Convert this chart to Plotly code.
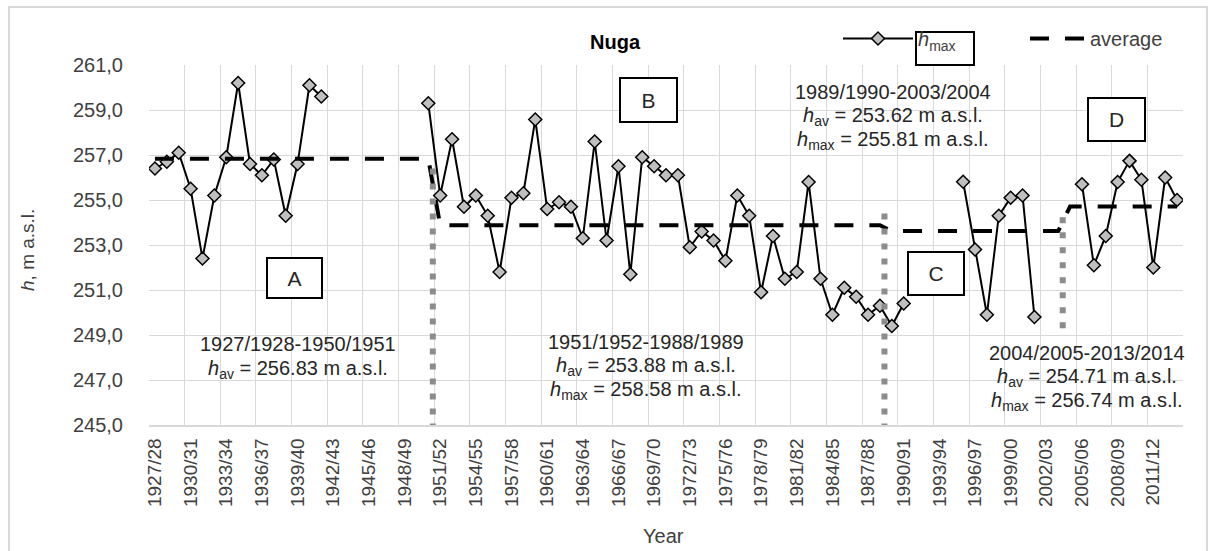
import plotly.graph_objects as go

# ---------------- data ----------------
seasons = [f"{y}/{str(y + 1)[-2:]}" for y in range(1927, 2014)]

h_max = [
    256.4, 256.7, 257.1, 255.5, 252.4, 255.2, 256.9, 260.2, 256.6, 256.1,
    256.8, 254.3, 256.6, 260.1, 259.6,
    None, None, None, None, None, None, None, None,
    259.3, 255.2, 257.7, 254.7, 255.2, 254.3, 251.8, 255.1, 255.3, 258.58,
    254.6, 254.9, 254.7, 253.3, 257.6, 253.2, 256.5, 251.7, 256.9, 256.5,
    256.1, 256.1, 252.9, 253.6, 253.2, 252.3, 255.2, 254.3, 250.9, 253.4,
    251.5, 251.8, 255.8, 251.5, 249.9, 251.1, 250.7, 249.9, 250.3, 249.4,
    250.4,
    None, None, None, None,
    255.81, 252.8, 249.9, 254.3, 255.1, 255.2, 249.8,
    None, None, None,
    255.7, 252.1, 253.4, 255.8, 256.74, 255.9, 252.0, 256.0, 255.0,
]

period_names = ["A", "B", "C", "D"]
period_first = ["1927/28", "1951/52", "1989/90", "2004/05"]
period_last = ["1950/51", "1988/89", "2003/04", "2013/14"]
period_text = ["1927/1928-1950/1951", "1951/1952-1988/1989",
               "1989/1990-2003/2004", "2004/2005-2013/2014"]
period_avg = [256.83, 253.88, 253.62, 254.71]
period_hmax = [None, 258.58, 255.81, 256.74]

y_ticks = [245, 247, 249, 251, 253, 255, 257, 259, 261]

# ---------------- derived ----------------
x_idx = list(range(len(seasons)))
average = []
for s in seasons:
    for f, l, a in zip(period_first, period_last, period_avg):
        if seasons.index(f) <= seasons.index(s) <= seasons.index(l):
            average.append(a)
            break

FONT = "Arial, Liberation Sans, sans-serif"
TXT = "#404040"
GRID = "#d9d9d9"

W, H = 1214, 551
L, R, T, B = 149, 1183, 65, 425


def px(x):
    return (x - L) / (R - L)


def py(y):
    return (B - y) / (B - T)


fig = go.Figure()
fig.add_trace(go.Scatter(
    x=x_idx, y=h_max, mode="lines+markers", name="<i>h</i><sub>max</sub>",
    line=dict(color="black", width=2),
    marker=dict(symbol="diamond", size=10, color="#bfbfbf",
                line=dict(color="black", width=1.5)),
    connectgaps=False, legend="legend",
))
fig.add_trace(go.Scatter(
    x=x_idx, y=average, mode="lines", name="average",
    line=dict(color="black", width=4, dash="19px,16px"),
    legend="legend2",
))

shapes = []
# white boxes behind the period texts (hide gridlines)
for x0, x1, y0, y1 in [(150, 430, 320, 404), (497, 797, 317, 404),
                       (743, 1035, 66, 155), (957, 1182, 328, 405)]:
    shapes.append(dict(type="rect", xref="paper", yref="paper",
                       x0=px(x0), x1=px(x1), y0=py(y1), y1=py(y0),
                       fillcolor="white", line=dict(width=0), layer="between"))

# dotted vertical separators between periods
sep_top = [256.7, 254.45, 254.55]
sep_bot = [244.8, 244.8, 249.3]
for i in range(3):
    xs = seasons.index(period_last[i]) + 0.38
    shapes.append(dict(type="line", xref="x", yref="y", x0=xs, x1=xs,
                       y0=sep_bot[i], y1=sep_top[i],
                       line=dict(color="#8c8c8c", width=6, dash="6px,9px")))

# box around legend text h_max
shapes.append(dict(type="rect", xref="paper", yref="paper",
                   x0=px(916), x1=px(974), y0=py(65), y1=py(32),
                   line=dict(color="black", width=2), fillcolor="rgba(0,0,0,0)"))
# outer chart border
shapes.append(dict(type="rect", xref="paper", yref="paper",
                   x0=px(9), x1=px(1207), y0=py(565), y1=py(7),
                   line=dict(color="#d9d9d9", width=2), fillcolor="rgba(0,0,0,0)"))

ann = []
# period letter boxes
for name, (cx, cy, w, h) in zip(period_names, [(294.5, 278, 57, 42), (648.5, 100, 59, 46),
                                               (936, 273.5, 58, 45), (1116.5, 119.5, 59, 45)]):
    ann.append(dict(x=px(cx), y=py(cy), xref="paper", yref="paper", text=name,
                    xanchor="center", yanchor="middle",
                    showarrow=False, width=w - 6, height=h - 6, bgcolor="white",
                    bordercolor="black", borderwidth=2, borderpad=1,
                    font=dict(size=21, color="#262626", family=FONT)))

# period description texts (line by line)
centers = [(298, [344, 369]), (646, [342, 366, 390]),
           (893, [92, 116, 140]), (1087, [353, 377, 401])]
for i, (cx, ys) in enumerate(centers):
    lines = [period_text[i], f"<i>h</i><sub>av</sub> = {period_avg[i]:.2f} m a.s.l."]
    if period_hmax[i] is not None:
        lines.append(f"<i>h</i><sub>max</sub> = {period_hmax[i]:.2f} m a.s.l.")
    for t, yy in zip(lines, ys):
        ann.append(dict(x=px(cx), y=py(yy), xref="paper", yref="paper", text=t,
                        showarrow=False, xanchor="center", yanchor="middle",
                        font=dict(size=20, color="#262626", family=FONT)))

# axis titles
ann.append(dict(x=px(28), y=py(250), xref="paper", yref="paper",
                xanchor="center", yanchor="middle",
                text="<i>h</i>, m a.s.l.", textangle=-90, showarrow=False,
                font=dict(size=19, color=TXT, family=FONT)))
ann.append(dict(x=px(663), y=py(536), xref="paper", yref="paper", text="Year",
                xanchor="center", yanchor="middle",
                showarrow=False, font=dict(size=20, color=TXT, family=FONT)))

legend_common = dict(orientation="h", xanchor="left", yanchor="top",
                     font=dict(size=20, color=TXT, family=FONT),
                     bgcolor="rgba(0,0,0,0)", borderwidth=0)

fig.update_layout(
    width=W, height=H,
    margin=dict(l=L, r=W - R, t=T, b=H - B, pad=0),
    paper_bgcolor="white", plot_bgcolor="white",
    separators=", ",
    title=dict(text="<b>Nuga</b>", x=615 / W, y=1 - 42 / H, xanchor="center",
               yanchor="middle", font=dict(size=20, color="black", family=FONT)),
    font=dict(family=FONT, color=TXT),
    showlegend=True,
    legend=dict(x=px(838), y=py(19), itemwidth=70, **legend_common),
    legend2=dict(x=px(1025), y=py(19), itemwidth=55, **legend_common),
    shapes=shapes, annotations=ann,
    xaxis=dict(range=[-0.5, len(seasons) - 0.5], tickmode="array",
               tickvals=x_idx[::3], ticktext=seasons[::3], tickangle=-90,
               showgrid=False, zeroline=False, showline=True, linecolor=GRID,
               linewidth=1.5, ticks="", ticklabelstandoff=4,
               tickfont=dict(size=19, color=TXT, family=FONT), automargin=False,
               minor=dict(tick0=-0.5, dtick=3, showgrid=True, gridcolor=GRID,
                          gridwidth=1.2, ticks="")),
    yaxis=dict(range=[245, 261], tickmode="array", tickvals=y_ticks,
               tickformat=".1f", showgrid=True, gridcolor=GRID, gridwidth=1.2,
               zeroline=False, showline=False, ticks="", ticklabelstandoff=25,
               tickfont=dict(size=20, color=TXT, family=FONT), automargin=False),
)

fig.write_html("out.html", config={"displayModeBar": False},
               post_script="document.body.style.margin='0';document.body.style.overflow='hidden';")
